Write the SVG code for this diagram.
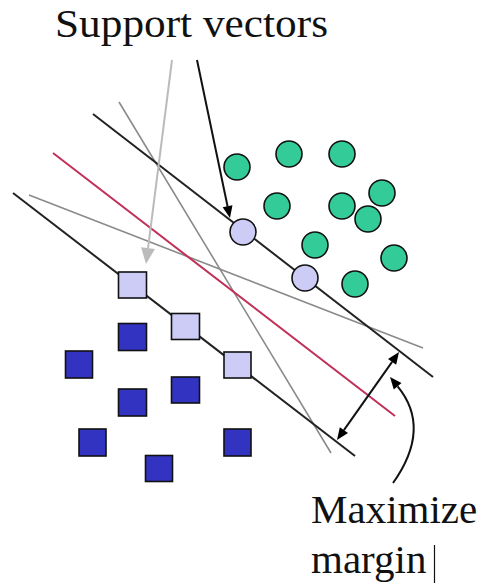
<svg xmlns="http://www.w3.org/2000/svg" width="491" height="585" viewBox="0 0 491 585">
<defs>
<style>
.blk{stroke:#222;stroke-width:2;fill:none}
.gry{stroke:#8a8a8a;stroke-width:1.6;fill:none}
.red{stroke:#c03058;stroke-width:2;fill:none}
.g{fill:#33cc99;stroke:#111;stroke-width:1.6}
.lc{fill:#ccccf6;stroke:#111;stroke-width:1.6}
.ls{fill:#ccccf6;stroke:#111;stroke-width:1.6}
.ds{fill:#3333c2;stroke:#111;stroke-width:1.6}
.arr{stroke:#111;stroke-width:2;fill:none}
.head{fill:#000;stroke:none}
text{font-family:"Liberation Serif","Times New Roman",serif !important;font-size:41px;fill:#111}
</style>
</defs>
<g id="connectors">
<line class="gry" x1="119" y1="102" x2="331" y2="453"/>
<line class="gry" x1="29" y1="195" x2="423" y2="348"/>
<line class="red" x1="53" y1="153" x2="395" y2="416"/>
<line class="blk" x1="93" y1="114" x2="433" y2="377"/>
<line class="blk" x1="13" y1="193" x2="355" y2="456"/>
<line stroke="#bbbbbb" stroke-width="2" x1="172" y1="60" x2="148" y2="248.5"/>
<polygon fill="#bbbbbb" points="146,264 154.96,249.01 141.08,247.25"/>
<line class="arr" x1="197" y1="60" x2="227.6" y2="206.5"/>
<polygon class="head" points="230,218 232.45,205.23 222.65,207.27"/>
<line class="arr" x1="343.9" y1="430.2" x2="392.1" y2="361.8"/>
<polygon class="head" points="399,352 396.18,364.69 388,358.93"/>
<polygon class="head" points="337,440 348,433.07 339.82,427.31"/>
<path class="arr" d="M393,483 Q432,428 397.6,386.3"/>
<polygon class="head" points="390,377 401.49,383.08 393.77,389.44"/>
</g>
<g id="class-circles">
<circle class="g" cx="237" cy="167" r="13"/>
<circle class="g" cx="289" cy="154" r="13"/>
<circle class="g" cx="342" cy="154" r="13"/>
<circle class="g" cx="382" cy="193" r="13"/>
<circle class="g" cx="277" cy="206" r="13"/>
<circle class="g" cx="342" cy="206" r="13"/>
<circle class="g" cx="368" cy="219" r="13"/>
<circle class="g" cx="315" cy="245" r="13"/>
<circle class="g" cx="394" cy="258" r="13"/>
<circle class="g" cx="355" cy="284" r="13"/>
</g>
<g id="support-circles">
<circle class="lc" cx="243" cy="232" r="13"/>
<circle class="lc" cx="305" cy="278" r="13"/>
</g>
<g id="support-squares">
<rect class="ls" x="118.5" y="272" width="28" height="26"/>
<rect class="ls" x="171.5" y="313.5" width="28" height="26"/>
<rect class="ls" x="224" y="352" width="27" height="26"/>
</g>
<g id="class-squares">
<rect class="ds" x="118.5" y="323.5" width="28" height="27"/>
<rect class="ds" x="65.5" y="351" width="27" height="27"/>
<rect class="ds" x="118.5" y="389" width="28" height="27"/>
<rect class="ds" x="171.5" y="377" width="28" height="26"/>
<rect class="ds" x="79" y="429" width="27" height="27"/>
<rect class="ds" x="224" y="429" width="27" height="27"/>
<rect class="ds" x="145.5" y="455.5" width="27" height="26"/>
</g>
<g id="label-support">
<text x="55" y="37" style="font-family:'Liberation Serif','Times New Roman',serif" textLength="273" lengthAdjust="spacingAndGlyphs">Support vectors</text>
</g>
<g id="label-margin">
<text x="311" y="523" style="font-family:'Liberation Serif','Times New Roman',serif">Maximize</text>
<text x="311" y="573" style="font-family:'Liberation Serif','Times New Roman',serif">margin</text>
</g>
<line x1="434.5" y1="545" x2="434.5" y2="583" stroke="#111" stroke-width="1.2"/>
</svg>
